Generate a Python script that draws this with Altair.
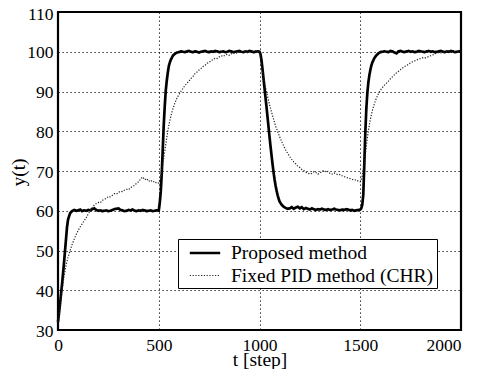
import altair as alt
import pandas as pd

series_names = ["Proposed method", "Fixed PID method (CHR)"]

# Proposed method (solid line)
t_prop = [0, 10, 20, 30, 40, 45, 50, 60, 70, 80, 90, 100, 110, 120, 130, 140, 150, 160, 170, 180,
          190, 200, 210, 220, 230, 240, 250, 260, 270, 280, 290, 300, 310, 320, 330, 340, 350, 360,
          370, 380, 390, 400, 410, 420, 430, 440, 450, 460, 470, 480, 490, 500,
          505, 510, 515, 520, 525, 530, 535, 540, 545, 550, 555, 560, 570, 580, 590, 600,
          610, 620, 630, 640, 650, 660, 670, 680, 690, 700, 710, 720, 730, 740, 750, 760, 770, 780,
          790, 800, 810, 820, 830, 840, 850, 860, 870, 880, 890, 900, 910, 920, 930, 940, 950, 960,
          970, 980, 990, 1000,
          1005, 1010, 1015, 1020, 1025, 1030, 1035, 1040, 1045, 1050, 1055, 1060, 1065, 1070, 1075,
          1080, 1085, 1090, 1095, 1100, 1110, 1120, 1130, 1140, 1150, 1160, 1170, 1180, 1190, 1200,
          1210, 1220, 1230, 1240, 1250, 1260, 1270, 1280, 1290, 1300, 1310, 1320, 1330, 1340, 1350,
          1360, 1370, 1380, 1390, 1400, 1410, 1420, 1430, 1440, 1450, 1460, 1470, 1480, 1490, 1500,
          1505, 1510, 1515, 1520, 1525, 1530, 1535, 1540, 1545, 1550, 1555, 1560, 1570, 1580, 1590,
          1600, 1610, 1620, 1630, 1640, 1650, 1660, 1670, 1680, 1690, 1700, 1710, 1720, 1730, 1740,
          1750, 1760, 1770, 1780, 1790, 1800, 1810, 1820, 1830, 1840, 1850, 1860, 1870, 1880, 1890,
          1900, 1910, 1920, 1930, 1940, 1950, 1960, 1970, 1980, 1990, 2000]
y_prop = [32.0, 36.5, 41.5, 47.0, 53.0, 56.0, 57.8, 59.4, 59.9, 60.2, 60.0, 60.1, 60.3, 59.9, 60.1,
          60.0, 60.2, 60.1, 60.4, 60.6, 60.2, 60.0, 60.1, 59.9, 60.0, 60.1, 59.9, 60.0, 60.2, 60.4,
          60.5, 60.6, 60.2, 60.1, 59.9, 60.0, 60.2, 60.1, 60.3, 60.0, 59.9, 60.1, 60.0, 60.2, 60.1,
          59.9, 60.0, 60.1, 59.9, 60.0, 60.1, 60.0,
          62.0, 64.8, 69.5, 75.6, 81.8, 86.5, 90.3, 92.8, 94.8, 96.4, 97.3, 98.0, 99.0, 99.5, 99.8, 99.9,
          100.1, 100.0, 99.9, 100.1, 100.2, 100.0, 99.9, 100.1, 100.0, 99.8, 100.0, 100.1, 100.2, 100.0,
          99.9, 100.1, 100.0, 100.2, 100.1, 99.9, 100.0, 100.1, 99.9, 100.0, 100.2, 100.1, 99.9, 100.0,
          100.1, 100.2, 100.0, 99.9, 100.1, 100.0, 100.2, 100.1, 99.9, 100.0, 100.1, 100.0,
          99.4, 97.8, 95.6, 93.2, 90.8, 88.4, 86.0, 83.5, 81.0, 78.5, 76.1, 73.8, 71.6, 69.6, 67.8,
          66.3, 65.0, 63.9, 63.0, 62.3, 61.5, 61.0, 60.7, 60.5, 60.6, 60.9, 60.5, 60.8, 61.0, 60.6,
          60.9, 60.4, 60.7, 60.5, 60.3, 60.6, 60.4, 60.2, 60.4, 60.3, 60.5, 60.3, 60.2, 60.4, 60.2,
          60.3, 60.5, 60.3, 60.2, 60.1, 60.3, 60.2, 60.4, 60.3, 60.1, 60.2, 60.0, 60.1, 60.2, 60.3,
          60.6, 61.5, 64.0, 71.5, 79.5, 85.5, 89.5, 92.2, 94.0, 95.4, 96.5, 97.3, 98.4, 99.1, 99.6,
          99.9, 100.0, 100.1, 100.0, 99.9, 100.2, 100.1, 99.8, 99.6, 100.1, 100.2, 100.0, 99.9, 100.1,
          100.2, 100.0, 100.1, 99.9, 100.0, 100.2, 100.1, 100.0, 99.9, 100.1, 100.2, 100.0, 100.1,
          99.9, 100.0, 100.1, 100.2, 100.0, 99.9, 100.1, 100.0, 100.2, 100.1, 99.9, 100.0, 100.1, 100.0]

# Fixed PID method (CHR) (dotted line)
t_pid = [0, 10, 20, 30, 40, 50, 60, 70, 80, 90, 100, 110, 120, 130, 140, 150, 160, 170, 180, 190,
         200, 210, 220, 230, 240, 250, 260, 270, 280, 290, 300, 310, 320, 330, 340, 350, 360, 370,
         380, 390, 400, 410, 420, 430, 440, 450, 460, 470, 480, 490, 500,
         505, 510, 515, 520, 525, 530, 540, 550, 560, 570, 580, 590, 600, 610, 620, 630, 640, 650,
         660, 670, 680, 690, 700, 710, 720, 730, 740, 750, 760, 770, 780, 790, 800, 810, 820, 830,
         840, 850, 860, 870, 880, 890, 900, 920, 940, 960, 980, 1000,
         1005, 1010, 1020, 1030, 1040, 1050, 1060, 1070, 1080, 1090, 1100, 1110, 1120, 1130, 1140,
         1150, 1160, 1170, 1180, 1190, 1200, 1210, 1220, 1230, 1240, 1250, 1260, 1270, 1280, 1290,
         1300, 1310, 1320, 1330, 1340, 1350, 1360, 1370, 1380, 1390, 1400, 1410, 1420, 1430, 1440,
         1450, 1460, 1470, 1480, 1490, 1500,
         1505, 1510, 1515, 1520, 1525, 1530, 1535, 1540, 1550, 1560, 1570, 1580, 1590, 1600, 1610,
         1620, 1630, 1640, 1650, 1660, 1670, 1680, 1690, 1700, 1710, 1720, 1730, 1740, 1750, 1760,
         1770, 1780, 1790, 1800, 1810, 1820, 1830, 1840, 1850, 1860, 1870, 1880, 1890, 1900, 1920,
         1940, 1960, 1980, 2000]
y_pid = [32.0, 36.0, 40.0, 43.5, 46.3, 48.3, 50.0, 51.5, 52.8, 54.0, 55.0, 55.9, 56.7, 57.5, 58.2,
         59.2, 60.0, 60.8, 61.4, 61.8, 62.1, 62.0, 62.6, 62.9, 63.1, 63.6, 63.5, 63.9, 64.3, 64.2,
         64.6, 64.9, 64.8, 65.2, 65.4, 65.3, 65.8, 66.1, 66.4, 66.9, 67.3, 68.0, 68.5, 67.8, 68.1,
         67.4, 67.7, 67.2, 67.4, 66.9, 67.0,
         67.8, 68.8, 70.0, 71.8, 73.4, 75.0, 78.5, 81.5, 83.8, 85.6, 87.1, 88.3, 89.2, 90.0, 90.8,
         91.5, 92.1, 92.6, 93.3, 93.8, 94.5, 94.9, 95.4, 95.8, 96.3, 96.6, 97.1, 97.3, 97.8, 98.0,
         98.4, 98.3, 98.7, 99.0, 98.8, 99.2, 99.4, 99.1, 99.5, 99.6, 99.8, 99.6, 99.9, 100.1, 99.8,
         100.0, 100.2, 100.0,
         98.8, 96.5, 93.5, 91.0, 88.8, 86.6, 84.8, 83.0, 81.3, 79.9, 78.6, 77.4, 76.3, 75.3, 74.4,
         73.6, 72.9, 72.3, 71.8, 71.2, 70.9, 70.4, 70.1, 69.7, 69.5, 69.2, 69.4, 69.8, 69.6, 69.2,
         69.5, 69.9, 70.2, 69.7, 69.9, 69.4, 69.2, 69.5, 69.3, 69.0, 69.1, 68.8, 68.6, 68.4, 68.2,
         68.1, 67.9, 67.7, 67.8, 67.4, 67.3,
         67.9, 68.8, 70.2, 72.3, 74.3, 76.3, 78.2, 80.0, 83.0, 85.2, 86.9, 88.3, 89.4, 90.3, 91.0,
         91.6, 92.1, 92.6, 93.2, 93.7, 94.2, 94.7, 95.1, 95.5, 95.9, 96.3, 96.5, 96.9, 97.2, 97.5,
         97.7, 97.9, 98.2, 98.3, 98.5, 98.4, 98.6, 98.8, 99.0, 99.2, 99.5, 99.6, 99.8, 99.7, 100.0,
         100.1, 99.9, 100.1, 100.0]

x_ticks = [0, 500, 1000, 1500, 2000]
y_ticks = [30, 40, 50, 60, 70, 80, 90, 100, 110]

df = pd.concat([
    pd.DataFrame({"t": t_prop, "y": y_prop, "series": series_names[0]}),
    pd.DataFrame({"t": t_pid, "y": y_pid, "series": series_names[1]}),
], ignore_index=True)

FONT = "Liberation Serif"

legend = alt.Legend(
    title=None, orient="none", legendX=120, legendY=227,
    fillColor="white", strokeColor="black", padding=3,
    symbolType="M-1.6,0H1.6", symbolSize=361, symbolOffset=13,
    labelOffset=15, rowPadding=2,
    labelFont=FONT, labelFontSize=19.5, labelColor="black", labelLimit=400,
)

chart = alt.Chart(df).mark_line().encode(
    x=alt.X("t:Q", scale=alt.Scale(domain=[0, 2000], nice=False),
            axis=alt.Axis(values=x_ticks, format="d", title="t [step]", labelFlush=False,
                          labelAlign={"condition": {"test": "datum.value == 2000", "value": "right"},
                                      "value": "center"},
                          labelPadding=6, labelFont=FONT, labelFontSize=17.5,
                          titleY=35, titleBaseline="alphabetic")),
    y=alt.Y("y:Q", scale=alt.Scale(domain=[30, 110], nice=False, zero=False),
            axis=alt.Axis(values=y_ticks, format="d", title="y(t)", labelPadding=5,
                          labelOffset={"condition": {"test": "datum.value == 110", "value": 2.5},
                                       "value": 1},
                          labelFont=FONT, labelFontSize=17.5,
                          titleX=-33.5, titleY=160,
                          titleAngle=270, titleAlign="center", titleBaseline="alphabetic")),
    color=alt.Color("series:N", scale=alt.Scale(domain=series_names, range=["black", "#222222"]),
                    legend=legend),
    strokeDash=alt.StrokeDash("series:N", scale=alt.Scale(domain=series_names, range=[[1, 0], [1.2, 1.6]]),
                              legend=legend),
    strokeWidth=alt.StrokeWidth("series:N", scale=alt.Scale(domain=series_names, range=[2.7, 1.2]),
                                legend=legend),
).properties(
    width=403, height=318, autosize="none",
    padding={"left": 50, "top": 4, "right": 9, "bottom": 39},
).configure_view(
    stroke="black", strokeWidth=2.2,
).configure_axis(
    grid=True, gridColor="black", gridDash=[1.2, 2.8], gridWidth=1, gridOpacity=1,
    domain=False, ticks=False, tickSize=0,
    labelFont=FONT, labelFontSize=17.5, labelColor="black",
    titleFont=FONT, titleFontSize=19.5, titleFontWeight="normal", titleColor="black",
)

chart.save("out.html", embed_options={"renderer": "svg", "actions": False})
